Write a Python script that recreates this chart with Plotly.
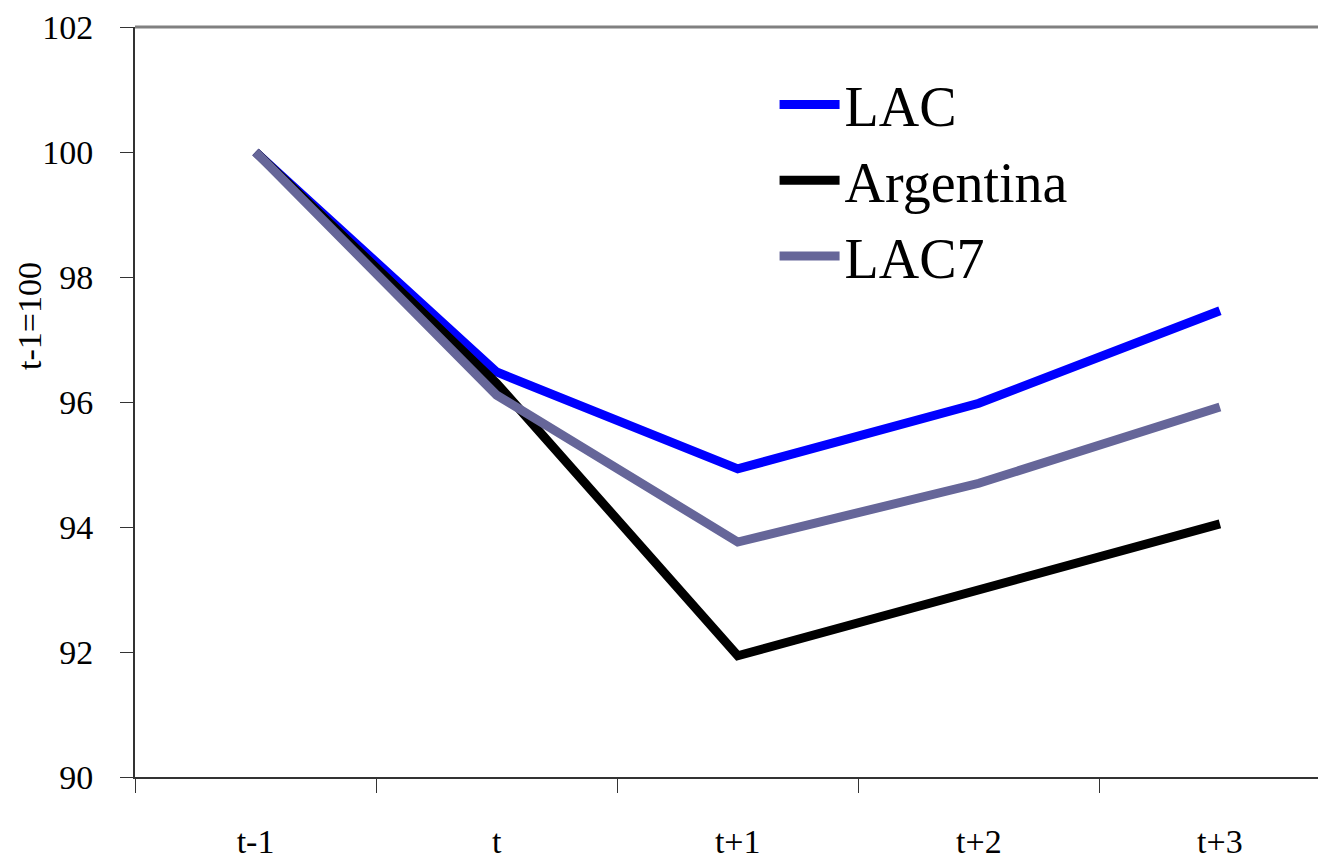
import plotly.graph_objects as go

categories = ["t-1", "t", "t+1", "t+2", "t+3"]
lac = [100.0, 96.48, 94.93, 95.98, 97.46]
argentina = [100.0, 96.30, 91.94, 92.99, 94.05]
lac7 = [100.0, 96.11, 93.76, 94.70, 95.92]
y_ticks = [90, 92, 94, 96, 98, 100, 102]

FONT = "Liberation Serif"

fig = go.Figure()
for name, vals, color in [("LAC", lac, "#0000FF"),
                          ("Argentina", argentina, "#000000"),
                          ("LAC7", lac7, "#666699")]:
    fig.add_trace(go.Scatter(x=categories, y=vals, name=name, mode="lines",
                             line=dict(color=color, width=9)))

fig.update_layout(
    width=1318, height=854,
    margin=dict(l=127, r=0, t=19, b=85, autoexpand=False),
    paper_bgcolor="white", plot_bgcolor="white",
    font=dict(family=FONT, color="black", size=34),
    showlegend=True,
    legend=dict(x=0.537, y=0.954, xanchor="left", yanchor="top",
                font=dict(family=FONT, size=56), bgcolor="rgba(0,0,0,0)",
                itemwidth=60, tracegroupgap=0),
)
fig.update_xaxes(
    type="category", range=[-0.5, 4.44], tickson="boundaries", automargin=False,
    showline=True, linecolor="#333333", linewidth=2,
    ticks="outside", ticklen=14, tickwidth=1, tickcolor="#333333",
    ticklabelstandoff=33, showgrid=False, zeroline=False,
    tickfont=dict(family=FONT, size=34),
)
fig.update_yaxes(
    range=[90, 102], tickvals=y_ticks, automargin=False,
    showline=True, linecolor="#333333", linewidth=2,
    ticks="outside", ticklen=13, tickwidth=1, tickcolor="#333333",
    ticklabelstandoff=20, showgrid=False, zeroline=False,
    tickfont=dict(family=FONT, size=34),
)
fig.add_shape(type="line", xref="paper", yref="paper", x0=0, x1=1, y0=1, y1=1,
              line=dict(color="#808080", width=3))
fig.add_annotation(text="t-1=100", xref="paper", yref="paper",
                   x=-0.088, y=0.615, textangle=-90, showarrow=False,
                   xanchor="center", yanchor="middle",
                   font=dict(family=FONT, size=34))

fig.write_html("out.html")
